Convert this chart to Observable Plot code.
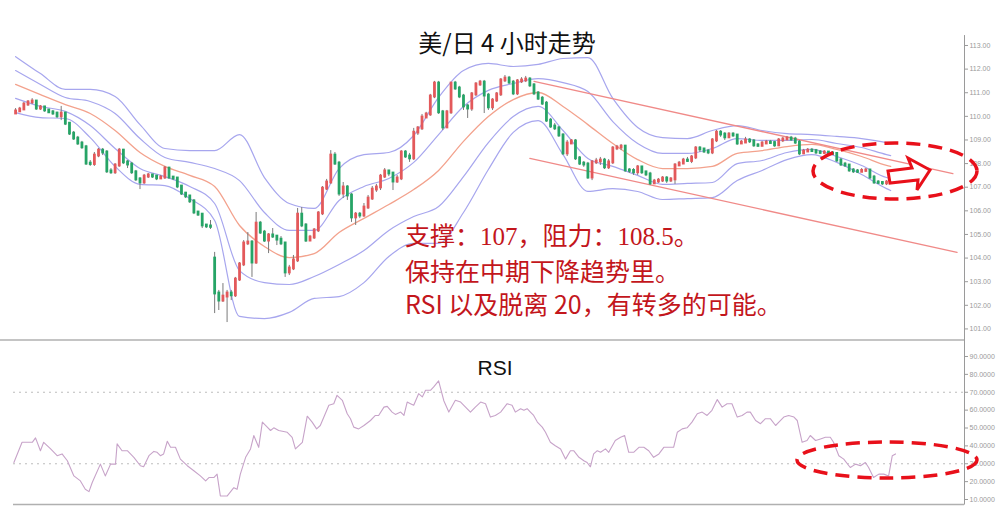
<!DOCTYPE html>
<html><head><meta charset="utf-8">
<script src="https://cdn.jsdelivr.net/npm/d3@7"></script>
<script src="https://cdn.jsdelivr.net/npm/@observablehq/plot@0.6"></script>
<style>
body{margin:0;background:#fff;}
#wrap{position:relative;width:1006px;height:526px;overflow:hidden;background:#fff;font-family:"Noto Sans CJK SC",sans-serif;}
#top,#rsi,#deco{position:absolute;left:0;}
#top{top:0}
#rsi{top:340px}
#deco{top:0;pointer-events:none}
.t{position:absolute;white-space:nowrap;}
#title{left:507px;top:29px;transform:translateX(-50%);font-size:24px;line-height:26px;color:#111;}
#rsiTitle{left:495px;top:356px;transform:translateX(-50%);font-family:"Liberation Sans",Arial,sans-serif;font-size:21px;line-height:24px;color:#111;}
#note{left:405px;top:220px;font-size:25px;line-height:33.5px;color:#c3161c;}
#note .l1{font-family:"Liberation Serif","Noto Sans CJK SC",serif;font-weight:400;}
</style></head><body>
<div id="wrap">
  <div id="top"></div>
  <div id="rsi"></div>
  <svg id="deco" width="1006" height="526">
    <ellipse cx="895" cy="171" rx="82" ry="28" fill="none" stroke="#e8101a" stroke-width="3.5" stroke-dasharray="14,8"/>
    <polygon points="888,171 912,168 908,158 930,170 917,190 918,180 890,183" fill="#fff" stroke="#e8101a" stroke-width="3" stroke-linejoin="miter"/>
    <ellipse cx="887" cy="460" rx="90" ry="18" fill="none" stroke="#e8101a" stroke-width="3.5" stroke-dasharray="14,8"/>
  </svg>
  <div class="t" id="title">美/日 4 小时走势</div>
  <div class="t" id="rsiTitle">RSI</div>
  <div class="t" id="note"><div class="l1">支撑：107，阻力：108.5。</div><div>保持在中期下降趋势里。</div><div>RSI 以及脱离 20，有转多的可能。</div></div>
</div>
<script>
// ---- 4-hour candles (USD/JPY) ----
const open = [
110.12,110.21,110.29,110.50,110.59,110.63,110.33,110.38,110.25,110.17,
110.12,110.00,110.12,109.69,109.27,109.06,108.85,108.69,108.00,107.98,
108.34,108.55,108.47,107.67,107.63,107.92,108.55,108.05,107.96,107.63,
107.33,107.20,107.45,107.50,107.45,107.37,107.41,107.79,107.41,107.37,
107.03,106.73,106.61,106.40,105.93,105.84,105.38,105.34,103.98,102.50,
102.20,102.37,102.50,102.42,103.09,103.73,104.62,104.66,103.81,105.46,
105.08,104.74,104.96,104.91,104.78,104.62,103.39,103.56,103.90,105.84,
105.38,104.74,104.87,105.17,105.89,106.94,107.20,108.34,108.00,106.73,
106.99,106.65,105.72,105.84,105.80,106.14,106.52,106.90,106.99,107.45,
107.67,107.58,107.24,107.37,108.47,108.30,108.22,109.31,109.49,109.95,
110.08,110.84,111.39,110.17,109.53,110.17,111.39,111.18,110.84,110.42,
110.33,110.93,111.35,111.43,110.88,110.38,110.67,110.93,111.52,111.60,
111.43,110.97,111.48,111.52,111.56,111.31,110.97,110.75,110.54,109.82,
109.57,109.49,109.19,108.43,108.85,108.94,108.22,108.00,107.96,107.41,
108.05,108.09,108.13,107.84,108.05,108.64,108.68,108.72,107.71,107.69,
107.63,107.84,107.63,107.54,107.16,107.24,107.28,107.37,107.28,107.33,
107.92,108.00,108.13,108.11,108.26,108.64,108.60,108.51,108.47,108.98,
109.31,109.23,109.11,109.23,109.19,108.85,108.89,108.98,108.94,108.77,
108.75,108.85,108.89,108.87,108.77,108.98,109.02,109.06,109.02,108.89,
108.43,108.51,108.55,108.53,108.47,108.45,108.47,108.43,108.41,108.13,
107.96,107.92,107.71,107.67,107.65,107.69,107.71,107.41,107.20,107.18,
107.16,107.20];
const close = [
110.21,110.29,110.50,110.59,110.63,110.33,110.38,110.25,110.17,110.12,
110.00,110.12,109.69,109.27,109.06,108.85,108.69,108.00,107.98,108.34,
108.55,108.47,107.67,107.63,107.92,108.55,108.05,107.96,107.63,107.33,
107.20,107.45,107.50,107.45,107.37,107.41,107.79,107.41,107.37,107.03,
106.73,106.61,106.40,105.93,105.84,105.38,105.34,105.32,102.50,102.20,
102.37,102.50,102.42,103.09,103.73,104.62,104.66,103.81,105.46,105.08,
104.74,104.96,104.91,104.78,104.62,103.39,103.56,103.90,105.84,105.38,
104.74,104.87,105.17,105.89,106.94,107.20,108.34,108.00,106.73,106.99,
106.65,105.72,105.84,105.80,106.14,106.52,106.90,106.99,107.45,107.67,
107.58,107.24,107.37,108.47,108.30,108.22,109.31,109.49,109.95,110.08,
110.84,111.39,110.17,109.53,110.17,111.39,111.18,110.84,110.42,110.33,
110.93,111.35,111.43,110.88,110.38,110.67,110.93,111.52,111.60,111.43,
110.97,111.48,111.52,111.56,111.31,110.97,110.75,110.54,109.82,109.57,
109.49,109.19,108.43,108.85,108.94,108.22,108.00,107.96,107.41,108.05,
108.09,108.13,107.84,108.05,108.64,108.68,108.72,107.71,107.69,107.63,
107.84,107.63,107.54,107.16,107.24,107.28,107.37,107.28,107.33,107.92,
108.00,108.13,108.11,108.26,108.64,108.60,108.51,108.47,108.98,109.31,
109.23,109.11,109.23,109.19,108.85,108.89,108.98,108.94,108.77,108.75,
108.85,108.89,108.87,108.77,108.98,109.02,109.06,109.02,108.89,108.43,
108.51,108.55,108.53,108.47,108.45,108.47,108.43,108.41,108.13,107.96,
107.92,107.71,107.67,107.65,107.69,107.71,107.41,107.20,107.18,107.16,
107.20,107.37];
const high = [
110.33,110.38,110.59,110.67,110.75,110.67,110.46,110.42,110.29,110.25,
110.17,110.42,110.17,109.74,109.36,109.15,108.94,108.77,108.13,108.47,
108.64,108.64,108.55,107.79,108.00,108.64,108.60,108.13,108.05,107.71,
107.41,107.54,107.58,107.54,107.50,107.50,107.88,107.84,107.45,107.41,
107.07,106.78,106.65,106.48,105.97,105.88,105.42,105.59,104.24,102.63,
102.92,102.63,102.63,103.18,103.81,104.74,105.08,104.74,105.93,105.55,
105.17,105.04,105.25,104.91,104.91,104.66,103.69,104.11,106.10,106.14,
105.46,104.96,105.25,105.97,107.03,107.33,108.55,108.47,108.09,107.20,
107.07,106.73,105.93,105.93,106.31,106.65,107.03,107.12,107.54,107.79,
107.71,107.62,107.50,108.55,108.55,108.43,109.49,109.57,110.08,110.17,
110.93,111.48,111.48,110.25,110.25,111.43,111.48,111.27,110.93,110.50,
111.01,111.43,111.52,111.52,110.97,110.75,111.01,111.60,111.73,111.69,
111.52,111.56,111.64,111.69,111.64,111.39,111.05,110.84,110.63,109.91,
109.70,109.57,109.27,108.98,109.02,109.02,108.30,108.09,108.05,108.13,
108.22,108.26,108.22,108.17,108.72,108.77,108.81,108.77,107.79,107.79,
107.92,107.88,107.67,107.63,107.33,107.37,107.45,107.45,107.41,108.00,
108.09,108.22,108.26,108.34,108.72,108.72,108.64,108.60,109.06,109.40,
109.40,109.31,109.31,109.31,109.23,108.98,109.11,109.06,109.02,108.85,
108.94,108.98,108.98,108.94,109.06,109.11,109.15,109.15,109.11,108.98,
108.60,108.64,108.64,108.60,108.55,108.55,108.51,108.51,108.47,108.22,
108.05,107.96,107.79,107.75,107.79,107.79,107.75,107.50,107.28,107.24,
107.28,107.45];
const low = [
110.08,110.17,110.25,110.42,110.50,110.25,110.25,110.17,110.12,110.04,
109.91,109.82,109.61,109.19,108.98,108.77,108.60,107.92,107.88,107.88,
108.25,108.34,107.58,107.54,107.54,107.84,107.96,107.79,107.54,107.24,
106.90,107.12,107.37,107.37,107.28,107.33,107.33,107.33,107.28,106.94,
106.65,106.52,106.31,105.84,105.76,105.25,105.25,105.21,101.65,101.78,
102.12,101.27,102.20,102.33,103.01,103.64,104.53,103.18,103.73,105.00,
104.66,104.19,104.83,104.53,104.53,103.18,103.26,103.47,103.81,105.29,
104.66,104.70,104.79,105.08,105.80,106.86,107.12,107.92,106.61,106.52,
106.44,105.51,105.38,105.67,105.72,106.06,106.44,106.78,106.86,107.37,
107.45,106.86,107.16,107.28,108.22,108.05,108.13,109.19,109.40,109.91,
110.00,110.75,110.08,109.40,109.49,110.08,111.10,110.75,110.25,109.91,
110.21,110.84,111.27,110.12,110.25,110.25,110.59,110.84,111.43,111.35,
110.88,110.88,111.39,111.43,111.22,110.88,110.67,110.46,109.74,109.49,
109.40,109.11,108.34,108.30,108.81,108.13,107.92,107.84,107.33,107.28,
107.96,107.92,107.75,107.75,107.96,108.55,108.55,107.63,107.58,107.50,
107.50,107.54,107.45,107.07,107.12,107.16,107.20,107.16,107.20,107.12,
107.88,107.96,108.05,108.00,108.17,108.47,108.43,108.38,108.38,108.89,
109.11,108.98,109.06,109.11,108.77,108.81,108.85,108.85,108.69,108.69,
108.72,108.81,108.81,108.69,108.72,108.89,108.98,108.94,108.81,108.34,
108.38,108.47,108.47,108.38,108.38,108.38,108.34,108.34,108.05,107.88,
107.84,107.63,107.58,107.58,107.63,107.63,107.33,107.12,107.12,107.07,
107.07,107.12];

// ---- Bollinger bands (20) at sampled candle indices ----
const bandT = [0,6,12,18,24,30,36,42,48,54,60,66,72,78,84,90,96,102,108,114,120,126,132,138,144,150,156,162,168,174,180,186,192,198,204,210,211];
const upper2 = [112.53,111.81,111.14,111.14,110.84,109.65,108.64,108.55,108.55,109.23,107.41,106.31,106.10,107.79,108.38,108.47,109.19,110.80,111.94,112.24,112.11,112.20,112.45,112.49,110.76,109.53,109.10,109.06,109.40,109.61,109.40,109.27,109.23,109.15,109.06,108.89,108.85];
const upper1 = [111.94,111.35,110.80,110.63,110.12,109.06,108.26,108.05,107.79,107.28,105.93,105.17,105.17,106.44,107.03,107.37,108.05,109.23,110.42,111.10,111.39,111.60,111.43,111.05,109.78,108.85,108.43,108.43,108.64,109.06,108.98,108.98,109.02,108.85,108.68,108.38,108.34];
const middle = [111.35,110.92,110.50,110.12,109.40,108.47,107.88,107.50,107.03,105.38,104.49,104.02,104.19,105.08,105.68,106.27,106.90,107.71,108.94,109.99,110.71,111.01,110.42,109.65,108.85,108.17,107.79,107.79,107.88,108.43,108.55,108.72,108.81,108.60,108.30,107.92,107.88];
const lower1 = [110.76,110.42,110.21,109.61,108.64,107.79,107.45,107.03,106.31,103.47,102.96,102.88,103.22,103.73,104.32,105.17,105.76,106.18,107.45,108.89,109.99,110.42,109.40,108.22,107.88,107.50,107.12,107.16,107.20,108.00,108.13,108.47,108.60,108.30,107.92,107.41,107.37];
const lower2 = [110.16,109.95,109.91,109.10,107.88,107.12,107.07,106.52,105.59,101.53,101.44,101.70,102.29,102.37,102.96,104.07,104.62,104.62,105.93,107.75,109.32,109.82,108.38,106.82,106.94,106.82,106.48,106.52,106.56,107.28,107.71,108.17,108.38,108.05,107.54,106.94,106.86];

// ---- descending channel ----
const chanUpperT = [125, 226];
const chanUpperP = [111.48, 107.58];
const chanLowerT = [124, 227];
const chanLowerP = [108.22, 104.24];

// ---- price axis ticks ----
const priceTicks = [101,102,103,104,105,106,107,108,109,110,111,112,113];

// ---- RSI (time position, value) ----
const rsiT = [0.1,2.1,3.4,4.6,5.4,6.6,7.4,9.1,10.7,11.9,13.2,14.8,16.4,17.6,18.5,19.3,21.3,22.5,23.8,25.0,25.4,26.6,27.9,29.5,31.1,31.9,33.2,34.4,35.2,36.0,36.8,37.7,38.5,39.7,40.9,42.6,44.2,45.8,47.1,47.9,49.1,49.9,50.7,52.4,54.0,54.8,55.6,56.9,58.1,58.9,60.1,61.0,62.2,63.0,63.8,65.0,67.1,68.3,69.1,70.8,72.0,73.2,74.3,75.2,77.3,78.5,79.3,80.6,81.8,82.6,83.4,84.6,85.9,87.5,88.7,89.5,90.8,91.6,92.8,93.6,94.9,95.7,96.5,97.3,98.1,99.3,100.2,101.0,102.2,103.0,104.2,105.5,106.7,108.3,109.6,110.8,112.0,113.2,114.5,115.7,116.9,118.1,119.4,
121.0,122.2,123.0,124.3,125.1,125.9,126.7,127.5,128.4,129.6,130.4,131.6,132.8,134.1,135.3,136.5,137.3,138.6,139.8,140.6,141.4,142.2,143.1,143.9,145.1,145.9,147.5,148.8,149.8,150.8,152.0,153.3,154.5,155.7,156.9,158.2,159.4,160.6,161.8,162.7,163.9,165.1,166.3,167.6,168.8,170.0,171.2,172.5,173.7,174.9,176.1,177.4,178.6,179.8,180.6,181.9,183.1,184.3,185.5,186.8,187.6,188.8,190.0,191.3,192.1,193.3,194.5,195.3,196.6,197.8,199.0,200.2,201.0,202.3,203.5,205.1,206.4,207.6,208.8,209.6,210.8,212.1,213.3,214.5,215.4,216.2];
const rsiV = [30.7,42.0,42.0,42.0,44.5,37.3,42.0,38.3,34.5,35.5,31.7,23.2,20.4,15.7,14.4,19.5,29.8,23.2,29.8,29.8,41.1,37.3,37.3,33.6,28.9,28.3,34.5,36.9,36.4,34.5,35.5,42.6,39.2,39.2,32.6,28.9,26.1,23.2,20.4,22.3,22.3,24.2,12.0,12.0,16.6,15.7,24.2,33.6,38.3,45.8,39.2,53.3,50.5,48.6,50.1,48.6,47.6,44.8,38.3,42.0,56.6,53.3,49.5,51.4,62.7,63.6,68.3,65.5,58.0,55.2,50.5,49.5,51.4,54.2,57.0,57.0,61.7,62.1,58.9,57.6,58.9,57.0,64.5,63.6,62.7,69.2,67.4,71.1,71.1,73.0,76.4,65.1,58.9,65.5,64.5,61.7,58.9,61.7,64.5,63.6,56.1,57.0,58.9,
63.6,62.7,58.9,60.8,59.9,60.8,58.9,57.0,53.3,50.5,47.6,42.0,40.1,38.3,32.6,37.3,37.3,33.6,31.7,30.7,28.3,35.5,37.3,36.4,38.3,36.4,43.0,44.8,45.8,36.4,36.4,39.2,39.2,37.3,33.6,35.5,39.2,39.2,39.2,47.6,49.5,50.1,53.3,58.0,58.9,57.0,59.9,65.9,61.7,63.6,63.6,56.1,57.0,58.9,58.9,54.2,52.4,55.2,55.2,51.4,53.3,56.1,57.0,56.1,54.2,42.0,43.0,45.8,43.0,43.9,44.8,44.8,42.0,34.5,32.6,27.9,29.8,28.9,30.7,27.9,22.3,24.2,24.2,23.2,34.5,35.5];
const rsiTicks = [10,20,30,40,50,60,70,80,90];
const rsiLevels = [30,70];

// ---- build tables ----
const n = Math.min(open.length, close.length, high.length, low.length);
const candles = d3.range(n).map(k => ({i:k, o:open[k], c:close[k], h:high[k], l:low[k]}));
const bands = bandT.map((t,k) => ({t, u2:upper2[k], u1:upper1[k], m:middle[k], l1:lower1[k], l2:lower2[k]}));
const chanU = chanUpperT.map((t,k)=>({t, p:chanUpperP[k]}));
const chanL = chanLowerT.map((t,k)=>({t, p:chanLowerP[k]}));
const rsi = d3.range(Math.min(rsiT.length, rsiV.length)).map(k => ({t:rsiT[k], v:rsiV[k]}));

const UP = "#e3595b", DOWN = "#26a466", BAND = "#a7a6ee", MA = "#f3a28d", CHAN = "#f08a88";
const XMAX = 228.8;
const axisStyle = {fontFamily:"'Liberation Sans',Arial,sans-serif", fontSize:"7px", color:"#9a9a9a", background:"transparent", overflow:"visible"};

const topPlot = Plot.plot({
  width:1006, height:340, marginLeft:13, marginRight:42, marginTop:0, marginBottom:0,
  x:{domain:[-0.5, XMAX], axis:null},
  y:{domain:[100.51, 114.905], axis:null},
  style:axisStyle,
  marks:[
    Plot.line(bands,{x:"t", y:"u2", stroke:BAND, strokeWidth:1.2, curve:"monotone-x"}),
    Plot.line(bands,{x:"t", y:"u1", stroke:BAND, strokeWidth:1.2, curve:"monotone-x"}),
    Plot.line(bands,{x:"t", y:"l1", stroke:BAND, strokeWidth:1.2, curve:"monotone-x"}),
    Plot.line(bands,{x:"t", y:"l2", stroke:BAND, strokeWidth:1.2, curve:"monotone-x"}),
    Plot.line(bands,{x:"t", y:"m", stroke:MA, strokeWidth:1.3, curve:"monotone-x"}),
    Plot.line(chanU,{x:"t", y:"p", stroke:CHAN, strokeWidth:1.3}),
    Plot.line(chanL,{x:"t", y:"p", stroke:CHAN, strokeWidth:1.3}),
    Plot.ruleX(candles,{x:"i", y1:"l", y2:"h", stroke:"#7a7a7a", strokeWidth:1}),
    Plot.ruleX(candles,{x:"i", y1:"o", y2:"c", stroke:d => d.c >= d.o ? UP : DOWN, strokeWidth:2.8, strokeLinecap:"square"}),
    Plot.ruleX([XMAX],{y1:113.42, y2:100.51, stroke:"#9a9a9a", strokeWidth:1}),
    Plot.ruleY([100.53],{x1:-3.7, x2:XMAX, stroke:"#b0b0b0", strokeWidth:1.5}),
    Plot.axisY({anchor:"right", label:null, ticks:priceTicks, tickFormat:d3.format(".2f"), tickSize:3, tickPadding:2, fontSize:7})
  ]
});
document.getElementById("top").appendChild(topPlot);

const rsiPlot = Plot.plot({
  width:1006, height:170, marginLeft:13, marginRight:42, marginTop:0, marginBottom:0,
  x:{domain:[0, 233.1], axis:null},
  y:{domain:[3.85, 98.95], axis:null},
  style:axisStyle,
  marks:[
    Plot.ruleY(rsiLevels,{stroke:"#bdbdbd", strokeWidth:1.2, strokeDasharray:"2,4"}),
    Plot.line(rsi,{x:"t", y:"v", stroke:"#c7a3c9", strokeWidth:1.1}),
    Plot.ruleX([233.1],{y1:98.95, y2:6.9, stroke:"#9a9a9a", strokeWidth:1}),
    Plot.ruleY([7.2],{stroke:"#b0b0b0", strokeWidth:1.5}),
    Plot.axisY({anchor:"right", label:null, ticks:rsiTicks, tickFormat:d3.format(".4f"), tickSize:3, tickPadding:2, fontSize:7})
  ]
});
document.getElementById("rsi").appendChild(rsiPlot);
</script>
</body></html>
